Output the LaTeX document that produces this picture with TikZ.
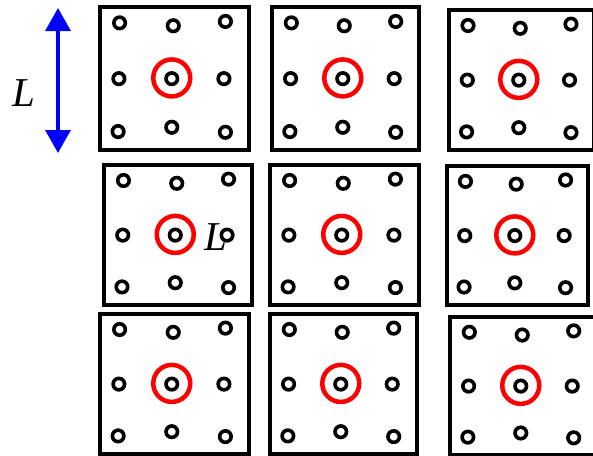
\documentclass[tikz,border=0pt]{standalone}
\usepackage{fontspec}
\setmainfont{Liberation Serif}
\usetikzlibrary{arrows.meta}
\newcommand\cellgrid[5]{%
  \node[cellbox,minimum width=#4pt,minimum height=#5pt,anchor=north west] (#1) at (#2,#3) {};
  \node[dot] (#1-11) at ({#2+0.145*#4},{#3+0.125*#5}) {};
  \node[dot] (#1-12) at ({#2+0.505*#4},{#3+0.145*#5}) {};
  \node[dot] (#1-13) at ({#2+0.855*#4},{#3+0.115*#5}) {};
  \node[dot] (#1-21) at ({#2+0.14*#4},{#3+0.515*#5}) {};
  \node[dot] (#1-22) at ({#2+0.495*#4},{#3+0.515*#5}) {};
  \node[dot] (#1-23) at ({#2+0.845*#4},{#3+0.515*#5}) {};
  \node[dot] (#1-31) at ({#2+0.135*#4},{#3+0.885*#5}) {};
  \node[dot] (#1-32) at ({#2+0.495*#4},{#3+0.855*#5}) {};
  \node[dot] (#1-33) at ({#2+0.855*#4},{#3+0.89*#5}) {};
  \node[ring] (#1-ring) at ({#2+0.495*#4},{#3+0.51*#5}) {};
}
\begin{document}
\begin{tikzpicture}[x=1pt,y=-1pt,
  cellbox/.style={draw=black,line width=4pt,inner sep=0pt},
  dot/.style={circle,draw=black,line width=3.6pt,minimum size=11.5pt,inner sep=0pt},
  ring/.style={circle,draw=red,line width=4.5pt,minimum size=37pt,inner sep=0pt},
  lab/.style={font=\fontsize{41}{41}\selectfont\itshape,inner sep=0pt},
  dimarrow/.style={draw=blue,line width=3.5pt,{Triangle[width=25pt,length=23pt]}-{Triangle[width=25pt,length=23pt]}}]
\useasboundingbox (0,0) rectangle (593,455);
\fill[white] (0,0) rectangle (593,455);
\begin{scope}
\clip (0,0) rectangle (593,455);
\cellgrid{a}{98}{5}{149}{143}
\cellgrid{b}{270}{5}{147}{143}
\cellgrid{c}{447}{8}{145}{140}
\cellgrid{d}{102}{163}{148}{140}
\cellgrid{e}{268}{163}{149}{140}
\cellgrid{f}{445}{164}{141}{139}
\cellgrid{g}{98}{312}{149}{140}
\cellgrid{h}{268}{312}{147}{140}
\cellgrid{i}{448}{315}{147}{138}
\end{scope}
\coordinate (atop) at (58,8);
\coordinate (abot) at (58,153);
\draw[dimarrow] (atop) -- (abot);
\node[lab] (L1) at (24,93) {L};
\node[lab] (L2) at (216,237) {L};
\end{tikzpicture}
\end{document}
